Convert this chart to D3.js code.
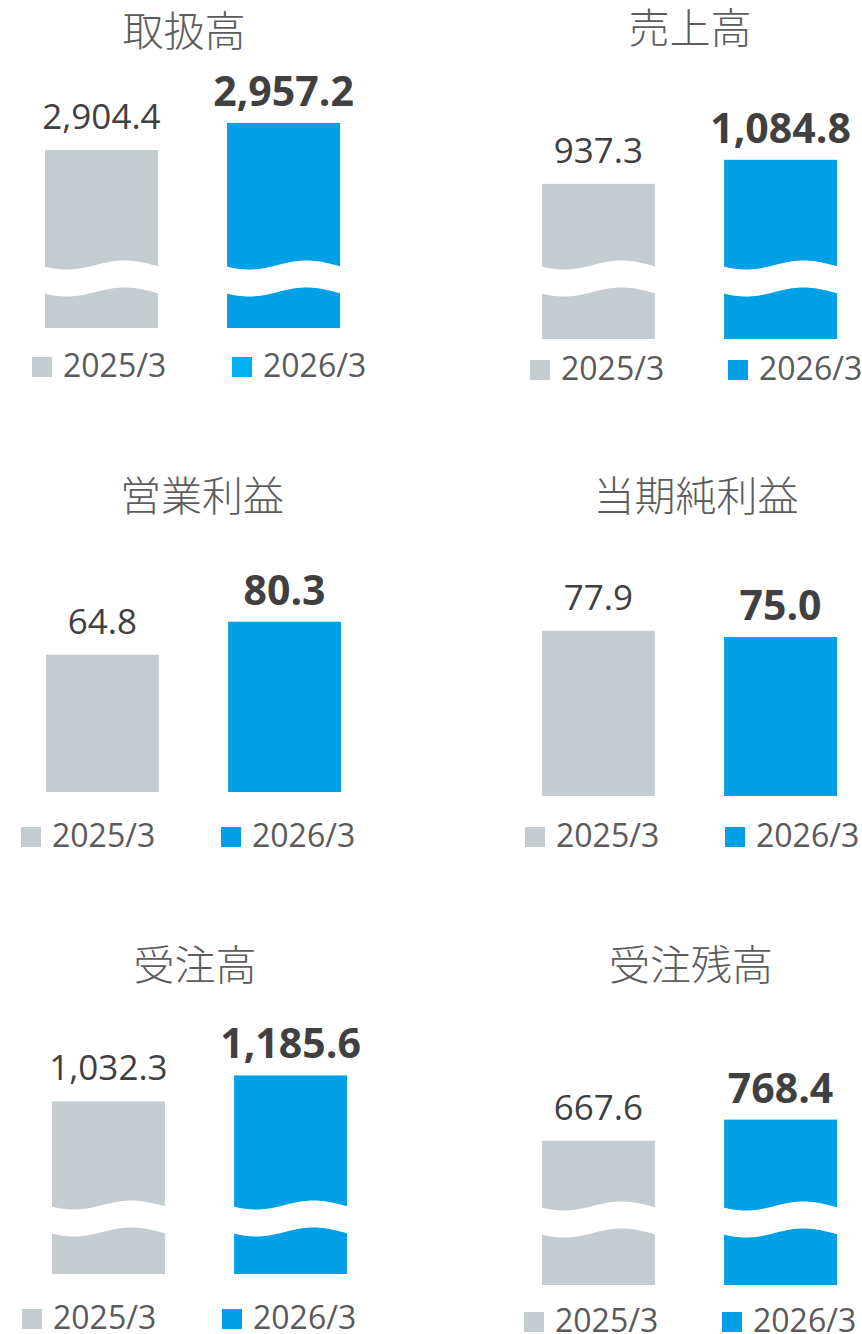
<!DOCTYPE html>
<html>
<head>
<meta charset="utf-8">
<script src="https://cdn.jsdelivr.net/npm/d3@7"></script>
<style>
  html, body { margin: 0; padding: 0; background: #fff; }
  svg { display: block; }
</style>
</head>
<body>
<div id="chart"></div>
<script>
// chart data
var titles = ["取扱高", "売上高", "営業利益", "当期純利益", "受注高", "受注残高"];
var years = ["2025/3", "2026/3"];
var prevValues = [2904.4, 937.3, 64.8, 77.9, 1032.3, 667.6];
var currValues = [2957.2, 1084.8, 80.3, 75.0, 1185.6, 768.4];
// value where the axis is broken (null = no break), and top of each value axis
var breakValues = [2680, 440, null, null, 420, 355];
var axisMax = [3000, 1200, 100, 100, 1200, 800];

var grayColor = "#C5CCD0";
var blueColor = "#00A0E6";

// panel frames (pixels)
var panels = [
  {barX: 45,  base: 328,  waveY: 265,  top: 101,  titleX: 184, titleY: 46,  legX: [32, 232],  legY: 377},
  {barX: 542, base: 339,  waveY: 265,  top: 141,  titleX: 690, titleY: 43,  legX: [530, 728], legY: 380},
  {barX: 46,  base: 792,  waveY: null, top: 580,  titleX: 202, titleY: 511, legX: [21, 221],  legY: 847},
  {barX: 542, base: 796,  waveY: null, top: 584,  titleX: 696, titleY: 511, legX: [525, 725], legY: 847},
  {barX: 52,  base: 1274, waveY: 1205, top: 1073, titleX: 195, titleY: 980, legX: [22, 222],  legY: 1329},
  {barX: 542, base: 1285, waveY: 1206, top: 1113, titleX: 691, titleY: 980, legX: [524, 722], legY: 1332}
];

var width = 862, height = 1334;
var fmt = d3.format(",.1f");

var svg = d3.select("#chart")
  .append("svg")
  .attr("width", width)
  .attr("height", height);

function wavePoints(x0, x1, c, amp) {
  return d3.range(0, 1.0001, 0.025).map(function(t) {
    return [x0 + (x1 - x0) * t, c - amp * Math.cos(2 * Math.PI * (t - 0.7))];
  });
}

titles.forEach(function(title, i) {
  var p = panels[i];
  var g = svg.append("g").attr("class", "panel");
  var rows = [
    {year: years[0], value: prevValues[i], color: grayColor, bold: false},
    {year: years[1], value: currValues[i], color: blueColor, bold: true}
  ];

  var x = d3.scaleBand()
    .domain(years)
    .range([p.barX, p.barX + 295])
    .paddingInner(0.38);

  var y;
  if (breakValues[i] != null) {
    y = d3.scaleLinear().domain([breakValues[i], axisMax[i]]).range([p.waveY, p.top]);
  } else {
    y = d3.scaleLinear().domain([0, axisMax[i]]).range([p.base, p.top]);
  }

  g.append("text")
    .attr("x", p.titleX)
    .attr("y", p.titleY)
    .attr("text-anchor", "middle")
    .attr("font-family", "'Noto Sans CJK JP', sans-serif")
    .attr("font-size", 41)
    .attr("font-weight", 300)
    .attr("fill", "#5c5c5c")
    .text(title);

  g.selectAll("rect.bar")
    .data(rows)
    .enter().append("rect")
    .attr("class", "bar")
    .attr("x", function(d) { return x(d.year); })
    .attr("y", function(d) { return y(d.value); })
    .attr("width", x.bandwidth())
    .attr("height", function(d) { return p.base - y(d.value); })
    .attr("fill", function(d) { return d.color; });

  // wavy break band
  if (breakValues[i] != null) {
    var line = d3.line();
    rows.forEach(function(d) {
      var x0 = x(d.year) - 1, x1 = x(d.year) + x.bandwidth() + 1;
      var topEdge = wavePoints(x0, x1, y(breakValues[i]), 4.5);
      var bottomEdge = topEdge.map(function(pt) { return [pt[0], pt[1] + 27]; }).reverse();
      g.append("path")
        .attr("d", line(topEdge.concat(bottomEdge)) + "Z")
        .attr("fill", "#fff");
    });
  }

  g.selectAll("text.value")
    .data(rows)
    .enter().append("text")
    .attr("class", "value")
    .attr("x", function(d) { return x(d.year) + x.bandwidth() / 2; })
    .attr("y", function(d) { return y(d.value) - (d.bold ? 17 : 21); })
    .attr("text-anchor", "middle")
    .attr("font-family", "'Open Sans', sans-serif")
    .attr("font-size", function(d) { return d.bold ? 41 : 35; })
    .attr("font-weight", function(d) { return d.bold ? 700 : 400; })
    .attr("fill", "#404040")
    .text(function(d) { return fmt(d.value); });

  var legend = g.selectAll("g.legend")
    .data(rows)
    .enter().append("g")
    .attr("class", "legend")
    .attr("transform", function(d, k) { return "translate(" + p.legX[k] + "," + p.legY + ")"; });

  legend.append("rect")
    .attr("x", 0)
    .attr("y", -20)
    .attr("width", 20)
    .attr("height", 20)
    .attr("fill", function(d) { return (i === 0 && d.bold) ? "#00B0F0" : d.color; });

  legend.append("text")
    .attr("x", 31)
    .attr("y", 0)
    .attr("font-family", "'Open Sans', sans-serif")
    .attr("font-size", 32)
    .attr("fill", "#5a5a5a")
    .text(function(d) { return d.year; });
});
</script>
</body>
</html>
